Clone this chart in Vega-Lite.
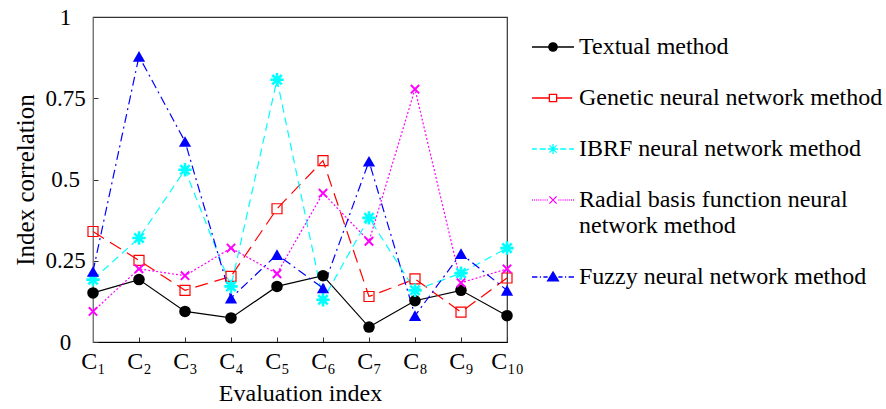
{
  "$schema": "https://vega.github.io/schema/vega-lite/v6.json",
  "width": 414,
  "height": 325,
  "autosize": "none",
  "padding": {"left": 93, "top": 17, "right": 379, "bottom": 67},
  "config": {
    "font": "Liberation Serif",
    "view": {"stroke": "#333333", "strokeWidth": 1.2},
    "style": {"guide-label": {"font": "Liberation Serif"}, "guide-title": {"font": "Liberation Serif"}},
    "axis": {
      "labelFont": "Liberation Serif",
      "labelFontSize": 24,
      "labelColor": "black",
      "titleFont": "Liberation Serif",
      "titleFontSize": 24,
      "titleFontWeight": "normal",
      "titleColor": "black",
      "grid": false,
      "domainColor": "#333333",
      "tickColor": "#333333",
      "tickSize": -5,
      "labelPadding": 12
    },
    "legend": {
      "labelFont": "Liberation Serif",
      "labelFontSize": 24,
      "labelColor": "black",
      "labelLimit": 500
    }
  },
  "data": {
    "values": [
      {"index": "C₁", "method": "Textual method", "value": 0.151},
      {"index": "C₂", "method": "Textual method", "value": 0.192},
      {"index": "C₃", "method": "Textual method", "value": 0.094},
      {"index": "C₄", "method": "Textual method", "value": 0.074},
      {"index": "C₅", "method": "Textual method", "value": 0.171},
      {"index": "C₆", "method": "Textual method", "value": 0.204},
      {"index": "C₇", "method": "Textual method", "value": 0.046},
      {"index": "C₈", "method": "Textual method", "value": 0.127},
      {"index": "C₉", "method": "Textual method", "value": 0.159},
      {"index": "C₁₀", "method": "Textual method", "value": 0.081},
      {"index": "C₁", "method": "Genetic neural network method", "value": 0.34},
      {"index": "C₂", "method": "Genetic neural network method", "value": 0.251},
      {"index": "C₃", "method": "Genetic neural network method", "value": 0.159},
      {"index": "C₄", "method": "Genetic neural network method", "value": 0.202},
      {"index": "C₅", "method": "Genetic neural network method", "value": 0.41},
      {"index": "C₆", "method": "Genetic neural network method", "value": 0.558},
      {"index": "C₇", "method": "Genetic neural network method", "value": 0.14},
      {"index": "C₈", "method": "Genetic neural network method", "value": 0.194},
      {"index": "C₉", "method": "Genetic neural network method", "value": 0.092},
      {"index": "C₁₀", "method": "Genetic neural network method", "value": 0.197},
      {"index": "C₁", "method": "IBRF neural network method", "value": 0.192},
      {"index": "C₂", "method": "IBRF neural network method", "value": 0.32},
      {"index": "C₃", "method": "IBRF neural network method", "value": 0.53},
      {"index": "C₄", "method": "IBRF neural network method", "value": 0.171},
      {"index": "C₅", "method": "IBRF neural network method", "value": 0.807},
      {"index": "C₆", "method": "IBRF neural network method", "value": 0.13},
      {"index": "C₇", "method": "IBRF neural network method", "value": 0.382},
      {"index": "C₈", "method": "IBRF neural network method", "value": 0.159},
      {"index": "C₉", "method": "IBRF neural network method", "value": 0.212},
      {"index": "C₁₀", "method": "IBRF neural network method", "value": 0.289},
      {"index": "C₁", "method": "Radial basis function neural network method", "value": 0.094},
      {"index": "C₂", "method": "Radial basis function neural network method", "value": 0.225},
      {"index": "C₃", "method": "Radial basis function neural network method", "value": 0.204},
      {"index": "C₄", "method": "Radial basis function neural network method", "value": 0.289},
      {"index": "C₅", "method": "Radial basis function neural network method", "value": 0.21},
      {"index": "C₆", "method": "Radial basis function neural network method", "value": 0.458},
      {"index": "C₇", "method": "Radial basis function neural network method", "value": 0.31},
      {"index": "C₈", "method": "Radial basis function neural network method", "value": 0.778},
      {"index": "C₉", "method": "Radial basis function neural network method", "value": 0.182},
      {"index": "C₁₀", "method": "Radial basis function neural network method", "value": 0.225},
      {"index": "C₁", "method": "Fuzzy neural network method", "value": 0.217},
      {"index": "C₂", "method": "Fuzzy neural network method", "value": 0.879},
      {"index": "C₃", "method": "Fuzzy neural network method", "value": 0.617},
      {"index": "C₄", "method": "Fuzzy neural network method", "value": 0.135},
      {"index": "C₅", "method": "Fuzzy neural network method", "value": 0.269},
      {"index": "C₆", "method": "Fuzzy neural network method", "value": 0.166},
      {"index": "C₇", "method": "Fuzzy neural network method", "value": 0.556},
      {"index": "C₈", "method": "Fuzzy neural network method", "value": 0.081},
      {"index": "C₉", "method": "Fuzzy neural network method", "value": 0.272},
      {"index": "C₁₀", "method": "Fuzzy neural network method", "value": 0.159}
    ]
  },
  "encoding": {
    "x": {
      "field": "index",
      "type": "ordinal",
      "scale": {"type": "point", "padding": 0, "domain": ["C₁", "C₂", "C₃", "C₄", "C₅", "C₆", "C₇", "C₈", "C₉", "C₁₀"]},
      "axis": {"title": "Evaluation index", "labelAngle": 0, "titlePadding": 8, "domainColor": "black"},
      "sort": null
    },
    "y": {
      "field": "value",
      "type": "quantitative",
      "scale": {"domain": [0, 1], "nice": false, "zero": false},
      "axis": {"title": "Index correlation", "titleFontSize": 25, "values": [0, 0.25, 0.5, 0.75, 1], "labelExpr": "'' + datum.value", "labelFontSize": 23, "labelAlign": "center", "labelPadding": 33, "titlePadding": 6, "domainColor": "#777777"}
    }
  },
  "layer": [
    {
      "transform": [{"filter": "datum.method === 'Textual method'"}],
      "mark": {"type": "line", "color": "black", "strokeWidth": 1.2}
    },
    {
      "transform": [{"filter": "datum.method === 'Genetic neural network method'"}],
      "mark": {"type": "line", "color": "red", "strokeWidth": 1.2, "strokeDash": [13, 7]}
    },
    {
      "transform": [{"filter": "datum.method === 'IBRF neural network method'"}],
      "mark": {"type": "line", "color": "cyan", "strokeWidth": 1.2, "strokeDash": [8, 5]}
    },
    {
      "transform": [{"filter": "datum.method === 'Radial basis function neural network method'"}],
      "mark": {"type": "line", "color": "magenta", "strokeWidth": 1.2, "strokeDash": [2, 2]}
    },
    {
      "transform": [{"filter": "datum.method === 'Fuzzy neural network method'"}],
      "mark": {"type": "line", "color": "blue", "strokeWidth": 1.2, "strokeDash": [9, 4, 2, 4]}
    },
    {
      "transform": [{"filter": "datum.method === 'Textual method'"}],
      "mark": {"type": "point", "shape": "circle", "filled": true, "color": "black", "size": 133, "opacity": 1}
    },
    {
      "transform": [{"filter": "datum.method === 'Genetic neural network method'"}],
      "mark": {"type": "point", "shape": "square", "filled": false, "color": "red", "size": 100, "strokeWidth": 1.2, "opacity": 1}
    },
    {
      "transform": [{"filter": "datum.method === 'IBRF neural network method'"}],
      "mark": {"type": "point", "shape": "M0,-1V1M-1,0H1M-0.7,-0.7L0.7,0.7M-0.7,0.7L0.7,-0.7", "filled": false, "color": "cyan", "size": 180, "strokeWidth": 2.6, "opacity": 1}
    },
    {
      "transform": [{"filter": "datum.method === 'Radial basis function neural network method'"}],
      "mark": {"type": "point", "shape": "M-1,-1L1,1M-1,1L1,-1", "filled": false, "color": "magenta", "size": 70, "strokeWidth": 2, "opacity": 1}
    },
    {
      "transform": [{"filter": "datum.method === 'Fuzzy neural network method'"}],
      "mark": {"type": "point", "shape": "triangle-up", "filled": true, "color": "blue", "size": 150, "opacity": 1}
    },
    {
      "transform": [{"filter": "false"}],
      "mark": {"type": "point", "size": 144, "strokeWidth": 1.3, "opacity": 1},
      "encoding": {
        "shape": {
          "field": "method",
          "type": "nominal",
          "scale": {
            "domain": ["Textual method", "Genetic neural network method", "IBRF neural network method", "Radial basis function neural network method", "Fuzzy neural network method"],
            "range": [
              "M-3.5,0H3.5M-0.7,0A0.7,0.7,0,1,0,0.7,0A0.7,0.7,0,1,0,-0.7,0Z",
              "M-3.5,0H-0.6M0.6,0H3.2M-0.6,-0.6H0.6V0.6H-0.6Z",
              "M-3.5,0H-2.7M-2.2,0H-1.2M1.2,0H2.2M2.7,0H3.5M0,-0.85V0.85M-0.85,0H0.85M-0.6,-0.6L0.6,0.6M-0.6,0.6L0.6,-0.6",
              "M-3.5,0H-3.35M-3.15,0H-3M-2.8,0H-2.65M-2.45,0H-2.3M-2.1,0H-1.95M-1.75,0H-1.6M-1.4,0H-1.25M-1.05,0H-0.9M0.9,0H1.05M1.25,0H1.4M1.6,0H1.75M1.95,0H2.1M2.3,0H2.45M2.65,0H2.8M3,0H3.15M3.35,0H3.5M-0.6,-0.6L0.6,0.6M-0.6,0.6L0.6,-0.6",
              "M-3.5,0H-2.6M-2.2,0H-2M-1.6,0H-0.9M0.9,0H1.6M2,0H2.2M2.6,0H3.5M0,-0.85L0.9,0.65H-0.9Z"
            ]
          },
          "legend": {
            "title": null,
            "orient": "right",
            "offset": 16,
            "padding": 18,
            "rowPadding": 27,
            "symbolSize": 144,
            "symbolStrokeWidth": 1.3,
            "symbolOpacity": 1,
            "labelOffset": 14,
            "labelFont": "Liberation Serif",
            "labelFontSize": 24,
            "labelColor": "black",
            "labelLimit": 500,
            "labelExpr": "datum.label === 'Radial basis function neural network method' ? ['Radial basis function neural', 'network method'] : datum.label",
            "encode": {
              "labels": {
                "font": {"value": "Liberation Serif"},
                "lineHeight": {"value": 31},
                "update": {"font": {"value": "Liberation Serif"}, "lineHeight": {"value": 31}}
              }
            }
          }
        },
        "stroke": {
          "field": "method",
          "type": "nominal",
          "scale": {
            "domain": ["Textual method", "Genetic neural network method", "IBRF neural network method", "Radial basis function neural network method", "Fuzzy neural network method"],
            "range": ["black", "red", "cyan", "magenta", "blue"]
          }
        },
        "fill": {
          "field": "method",
          "type": "nominal",
          "scale": {
            "domain": ["Textual method", "Genetic neural network method", "IBRF neural network method", "Radial basis function neural network method", "Fuzzy neural network method"],
            "range": ["black", "transparent", "cyan", "magenta", "blue"]
          }
        }
      }
    }
  ]
}
